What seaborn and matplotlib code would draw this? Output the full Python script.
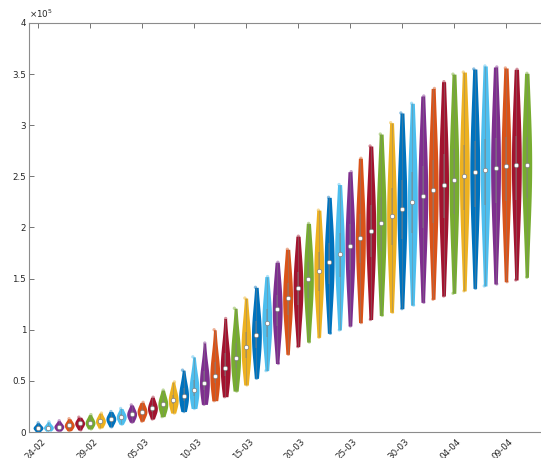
import matplotlib
matplotlib.use("Agg")
import matplotlib.pyplot as plt
import matplotlib.transforms as mtransforms
import seaborn as sns
import pandas as pd
import numpy as np
from matplotlib.ticker import FuncFormatter

# one violin per day, 24-02 .. 11-04 (values in thousands)
days = list(pd.date_range("2020-02-24", periods=48).strftime("%d-%m"))

low = [0.5, 1, 1, 1.3, 2, 3, 4, 5, 7.5, 9.5, 10.5, 12.7, 15, 18.5, 20, 23,
       27, 30.6, 34.5, 40, 46, 52.5, 60, 67, 76, 83.5, 88, 92.6, 96.5, 99.8,
       103.7, 107, 110, 114, 117, 120.6, 124, 126.8, 129.8, 133, 135.6, 138,
       140.5, 142.8, 144.8, 147, 148.7, 151.3]
q1 = [3, 3.3, 3.9, 4.9, 6.5, 7.2, 8.5, 10.4, 12.5, 15, 17.2, 19.9, 23.4, 27.3,
      30.5, 35.6, 41.4, 47.5, 54.5, 62.9, 71.9, 81.9, 92.9, 104.1, 114.5,
      123.8, 131.1, 138.2, 145.2, 151.7, 158.5, 164.9, 170.9, 177, 182.8,
      188.8, 194.7, 199.6, 204.6, 209, 212.9, 216.9, 220, 222.4, 224.4, 226.1,
      227.3, 228.4]
median = [4, 4.3, 5.2, 6.5, 8.5, 9, 10.5, 12.7, 14.7, 17.3, 20, 23, 27, 31, 35,
          41, 47.6, 54.8, 63, 72.7, 83, 94.5, 107, 120, 131, 141, 149.6, 157.8,
          166, 174, 182, 189.7, 197, 204, 211, 218, 225, 230.8, 236.7, 241.6,
          246, 250.7, 254, 256.5, 258.5, 260, 261, 261.4]
q3 = [5.5, 6, 6.9, 8.5, 10.3, 11.4, 12.9, 14.9, 17.2, 20.1, 22.7, 26.3, 31.2,
      36.4, 42.7, 50.8, 59.4, 68.4, 77.4, 87.2, 97.4, 108.6, 120.5, 133.8,
      145.3, 156.2, 165.9, 175.6, 185.1, 194.4, 203.8, 213.1, 221.8, 230.2,
      238.5, 246.2, 254, 260.1, 266.5, 271.9, 277.2, 281.1, 284.3, 287, 288,
      288.8, 289.1, 288.2]
high = [9, 10, 11, 13, 14.5, 17, 18.5, 20, 23, 26.5, 29, 34, 41, 49, 60.5, 73.5,
        87, 100, 111, 121, 131, 141.5, 152, 166, 178.7, 191.5, 204, 217, 229.5,
        242, 254.6, 267.7, 279.7, 291.4, 302.5, 312, 321.5, 328.6, 336, 342.6,
        350, 352, 355, 358, 357, 356, 354.7, 350.8]

tick_days = days[::5]

# MATLAB-like colour cycle in the order it appears
cycle = [(0, 0.447, 0.741), (0.301, 0.745, 0.933), (0.494, 0.184, 0.556),
         (0.85, 0.325, 0.098), (0.635, 0.078, 0.184), (0.466, 0.674, 0.188),
         (0.929, 0.694, 0.125)]
colors = [cycle[i % len(cycle)] for i in range(len(days))]

# long form: quantiles weighted so the centre is denser than the tails
weights = [1, 2, 3, 2, 1]
rows = []
for d, a, b, c, e, f in zip(days, low, q1, median, q3, high):
    for v, w in zip([a, b, c, e, f], weights):
        rows += [(d, v * 1000)] * w
df = pd.DataFrame(rows, columns=["day", "cases"])

sns.set_theme(style="white")
plt.rcParams["font.family"] = ["DejaVu Sans"]

fig = plt.figure(figsize=(5.41, 4.58), dpi=100)
ax = fig.add_axes([29 / 541, 26 / 458, 512 / 541, 409 / 458])

sns.violinplot(data=df, x="day", y="cases", hue="day", order=days,
               hue_order=days, palette=colors, saturation=1, inner=None,
               cut=0, width=0.95, linewidth=0, density_norm="width",
               bw_adjust=1.6, legend=False, ax=ax)
sns.stripplot(data=df, x="day", y="cases", hue="day", order=days,
              hue_order=days, palette=colors, jitter=0.12, size=2.4,
              alpha=0.45, linewidth=0, legend=False, ax=ax)

pos = np.arange(len(days))
ax.vlines(pos, np.array(low) * 1000, np.array(high) * 1000,
          color="0.5", lw=0.5, alpha=0.6, zorder=3)
ax.vlines(pos, np.array(q1) * 1000, np.array(q3) * 1000,
          color="0.5", lw=1.1, alpha=0.5, zorder=3)
ax.scatter(pos, np.array(median) * 1000, s=10, color="white",
           edgecolor="0.5", linewidth=0.5, zorder=4)

ax.set_xlim(-0.87, 48.37)
ax.set_ylim(0, 4e5)
ax.set_yticks(np.arange(0, 4.01e5, 0.5e5))
ax.yaxis.set_major_formatter(FuncFormatter(lambda v, p: f"{v / 1e5:g}"))
ax.set_xticks([days.index(t) for t in tick_days])
ax.set_xticklabels(tick_days)
ax.set_xlabel("")
ax.set_ylabel("")
ax.text(0, 1.008, r"$\times10^{5}$", transform=ax.transAxes, ha="left",
        va="bottom", fontsize=6.3, color="0.15")

for side in ["left", "top", "bottom"]:
    ax.spines[side].set_color("0.55")
    ax.spines[side].set_linewidth(0.8)
ax.spines["right"].set_visible(False)
ax.tick_params(axis="both", direction="in", length=3.5, width=0.7,
               color="0.45", labelsize=6.3, labelcolor="0.15", pad=2)
ax.tick_params(axis="x", top=True, pad=6)
ax.tick_params(axis="y", left=True)
shift = mtransforms.ScaledTranslation(6 / 100, 0, fig.dpi_scale_trans)
for lab in ax.get_xticklabels():
    lab.set_rotation(45)
    lab.set_ha("right")
    lab.set_va("center")
    lab.set_rotation_mode("anchor")
    lab.set_transform(lab.get_transform() + shift)

fig.savefig("out.png", dpi=100)
